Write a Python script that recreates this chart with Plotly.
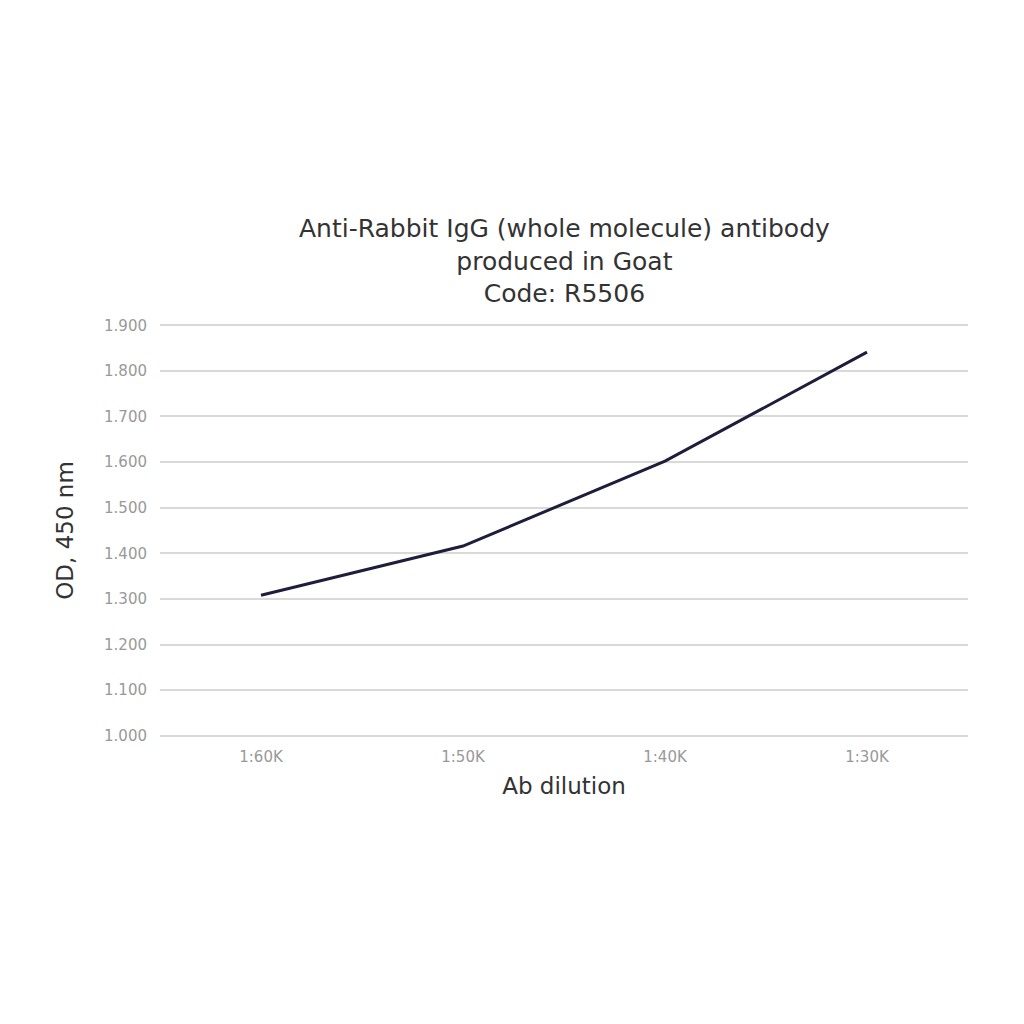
import plotly.graph_objects as go

categories = ["1:60K", "1:50K", "1:40K", "1:30K"]
od_values = [1.308, 1.416, 1.602, 1.841]
y_ticks = [1.0, 1.1, 1.2, 1.3, 1.4, 1.5, 1.6, 1.7, 1.8, 1.9]
title_lines = ["Anti-Rabbit IgG (whole molecule) antibody", "produced in Goat", "Code: R5506"]

fig = go.Figure()
fig.add_trace(go.Scatter(
    x=categories, y=od_values, mode="lines",
    line=dict(color="#1e1e3c", width=3),
    showlegend=False,
))

fig.add_annotation(
    text="<br>".join(title_lines),
    xref="paper", yref="paper", x=0.5, y=1, xanchor="center", yanchor="bottom",
    yshift=13, showarrow=False, align="center",
    font=dict(size=25, color="#333333", family="DejaVu Sans"),
)

fig.update_layout(
    width=1024, height=1024,
    paper_bgcolor="white", plot_bgcolor="white",
    margin=dict(l=152, r=64, t=315, b=294),
    font=dict(family="DejaVu Sans", color="#333333"),
    xaxis=dict(
        type="category", range=[-0.5, 3.5],
        showgrid=False, showline=False, zeroline=False,
        tickfont=dict(size=15, color="#999999"),
        ticks="", ticklabelstandoff=8,
        title=dict(text="Ab dilution", font=dict(size=23, color="#333333"), standoff=12),
    ),
    yaxis=dict(
        range=[0.995, 1.905], tickvals=y_ticks, tickformat=".3f",
        showgrid=True, gridcolor="#d9d9d9", gridwidth=1.5,
        zeroline=False, showline=False, ticks="",
        tickfont=dict(size=15, color="#999999"), ticklabelstandoff=12,
        title=dict(text="OD, 450 nm", font=dict(size=23, color="#333333"), standoff=23),
    ),
)

fig.write_html("out.html")
